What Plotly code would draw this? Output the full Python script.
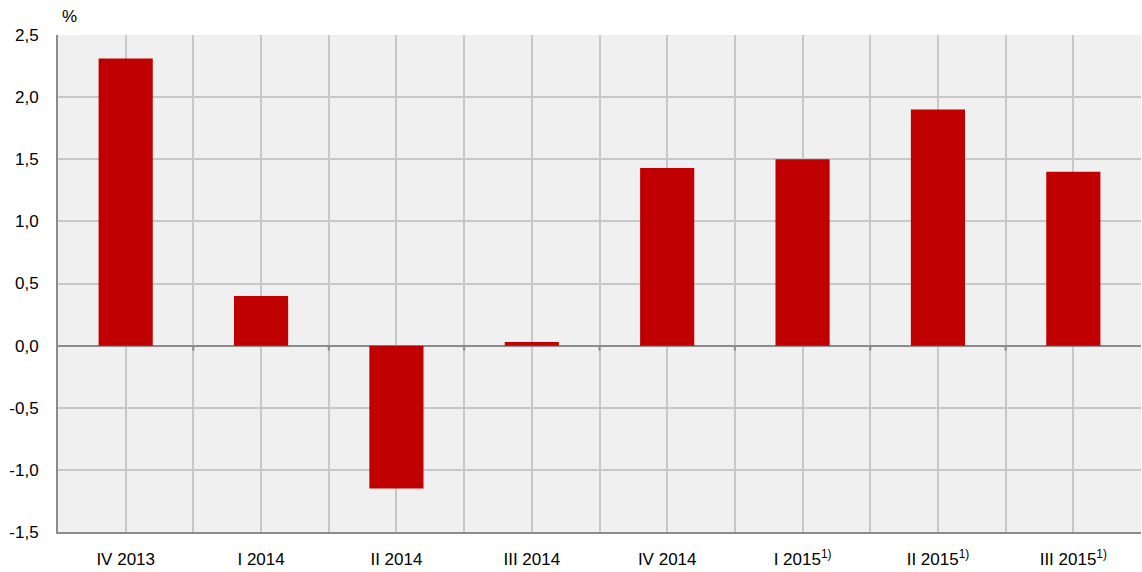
import plotly.graph_objects as go

# quarterly change, %
quarters = ['IV 2013', 'I 2014', 'II 2014', 'III 2014', 'IV 2014',
            'I 2015<sup>1)</sup>', 'II 2015<sup>1)</sup>', 'III 2015<sup>1)</sup>']
values = [2.31, 0.40, -1.15, 0.03, 1.43, 1.50, 1.90, 1.40]
y_ticks = [-1.5, -1.0, -0.5, 0.0, 0.5, 1.0, 1.5, 2.0, 2.5]

FONT = 'Liberation Sans, Arial'
pos = list(range(len(quarters)))
bounds = [i + 0.5 for i in pos[:-1]]

fig = go.Figure(go.Bar(x=pos, y=values, width=0.4, marker_color='#c00000',
                       marker_line_width=0))

# small tick marks on the zero line between categories
for b in bounds:
    fig.add_shape(type='line', xref='x', yref='y', x0=b, x1=b,
                  ysizemode='pixel', yanchor=0, y0=0, y1=-5,
                  line=dict(color='#8c8c8c', width=2))

fig.add_annotation(text='%', xref='paper', yref='paper', x=0.011, y=1.0,
                   xanchor='center', yanchor='bottom', yshift=7, showarrow=False,
                   font=dict(size=17, family=FONT, color='black'))

fig.update_layout(
    width=1142, height=572,
    margin=dict(l=58, r=1, t=35, b=40),
    plot_bgcolor='#f0f0f0', paper_bgcolor='white',
    font=dict(size=17, family=FONT, color='black'),
    showlegend=False
)

fig.update_xaxes(range=[-0.5, len(quarters) - 0.5], tickvals=pos, ticktext=quarters,
                 showgrid=True, gridcolor='#c8c8c8', gridwidth=1.5,
                 minor=dict(tickvals=bounds, showgrid=True, gridcolor='#c8c8c8',
                            gridwidth=1.5, ticks=''),
                 showline=True, linecolor='#8c8c8c', linewidth=2,
                 ticks='', ticklabelstandoff=11, zeroline=False, automargin=False)

fig.update_yaxes(range=[-1.5, 2.5], tickvals=y_ticks,
                 ticktext=[f'{v:.1f}'.replace('.', ',') for v in y_ticks],
                 showgrid=True, gridcolor='#c8c8c8', gridwidth=1.5,
                 showline=True, linecolor='#8c8c8c', linewidth=2,
                 zeroline=True, zerolinecolor='#8c8c8c', zerolinewidth=2,
                 ticks='', ticklabelstandoff=14, automargin=False)

fig.write_html('out.html', config={'displayModeBar': False},
               post_script="document.body.style.margin='0';")
